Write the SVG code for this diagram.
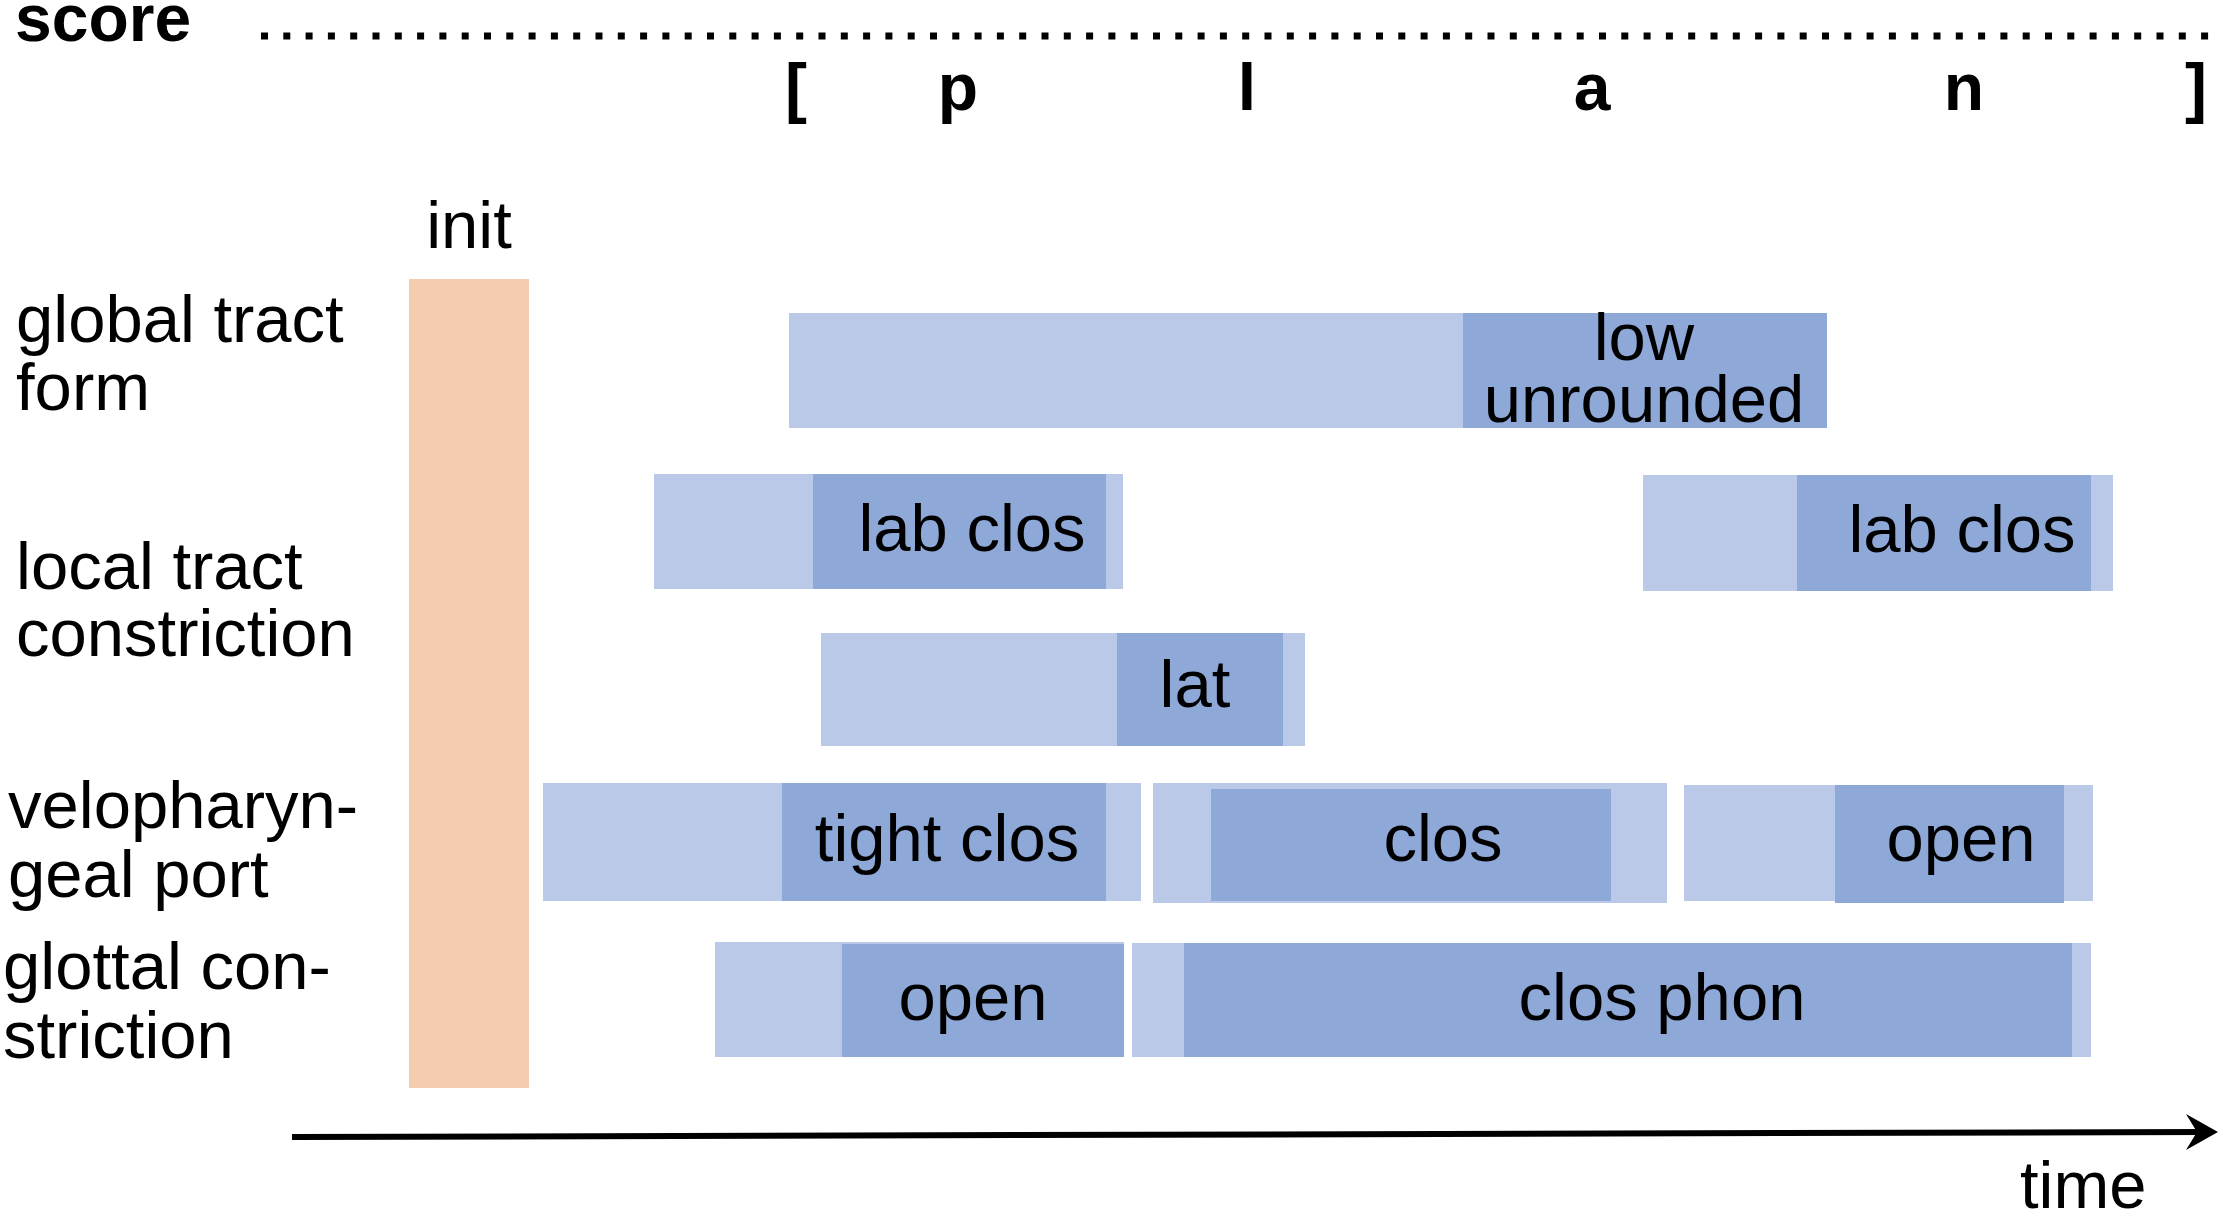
<svg xmlns="http://www.w3.org/2000/svg" width="2228" height="1223" viewBox="0 0 2228 1223">
<style>
text{font-family:"Liberation Sans",Arial,sans-serif;font-size:67px;fill:#000}
.b{font-weight:bold;font-size:66px}
.m{text-anchor:middle}
.lt{fill:#BAC9E7}
.dk{fill:#8EA8D8}
.init{fill:#F6CCB1}
</style>
<rect width="2228" height="1223" fill="#fff"/>
<g id="score">
<text class="b" x="15" y="41">score</text>
<line x1="261" y1="36" x2="2214" y2="36" stroke="#000" stroke-width="7" stroke-dasharray="7 15.3"/>
<text class="b m" x="796" y="110">[</text>
<text class="b m" x="958" y="110">p</text>
<text class="b m" x="1247" y="110">l</text>
<text class="b m" x="1592" y="110">a</text>
<text class="b m" x="1964" y="110">n</text>
<text class="b m" x="2196" y="110">]</text>
</g>
<g id="row-labels">
<text x="16" y="342">global tract</text>
<text x="16" y="410">form</text>
<text x="16" y="589">local tract</text>
<text x="16" y="656">constriction</text>
<text x="8" y="828">velopharyn-</text>
<text x="8" y="897">geal port</text>
<text x="3" y="989">glottal con-</text>
<text x="3" y="1058">striction</text>
</g>
<g id="init">
<text class="m" x="469" y="248">init</text>
<rect class="init" x="409" y="279" width="120" height="809"/>
</g>
<g id="global-low-unrounded">
<rect class="lt" x="789" y="313" width="674" height="115"/>
<rect class="dk" x="1463" y="313" width="364" height="115"/>
<text class="m" x="1644" y="360">low</text>
<text class="m" x="1644" y="422">unrounded</text>
</g>
<g id="local-lab-clos-1">
<rect class="lt" x="654" y="474" width="469" height="115"/>
<rect class="dk" x="813" y="474" width="293" height="115"/>
<text class="m" x="972" y="551">lab clos</text>
</g>
<g id="local-lab-clos-2">
<rect class="lt" x="1643" y="475" width="470" height="116"/>
<rect class="dk" x="1797" y="475" width="294" height="116"/>
<text class="m" x="1962" y="552">lab clos</text>
</g>
<g id="local-lat">
<rect class="lt" x="821" y="633" width="484" height="113"/>
<rect class="dk" x="1117" y="633" width="166" height="113"/>
<text class="m" x="1195" y="707">lat</text>
</g>
<g id="velo-tight-clos">
<rect class="lt" x="543" y="783" width="598" height="118"/>
<rect class="dk" x="782" y="783" width="324" height="118"/>
<text class="m" x="947" y="861">tight clos</text>
</g>
<g id="velo-clos">
<rect class="lt" x="1153" y="783" width="514" height="120"/>
<rect class="dk" x="1211" y="789" width="400" height="112"/>
<text class="m" x="1443" y="861">clos</text>
</g>
<g id="velo-open">
<rect class="lt" x="1684" y="785" width="409" height="116"/>
<rect class="dk" x="1835" y="785" width="229" height="118"/>
<text class="m" x="1961" y="861">open</text>
</g>
<g id="glottal-open">
<rect class="lt" x="715" y="942" width="409" height="115"/>
<rect class="dk" x="842" y="944" width="282" height="113"/>
<text class="m" x="973" y="1020">open</text>
</g>
<g id="glottal-clos-phon">
<rect class="lt" x="1132" y="943" width="959" height="114"/>
<rect class="dk" x="1184" y="943" width="888" height="114"/>
<text class="m" x="1662" y="1020">clos phon</text>
</g>
<g id="connectors">
<line x1="292" y1="1137" x2="2205" y2="1132" stroke="#000" stroke-width="6"/>
<path d="M2218,1132 L2186,1114 L2197,1132 L2186,1150 Z" fill="#000"/>
<text x="2020" y="1208">time</text>
</g>
</svg>
